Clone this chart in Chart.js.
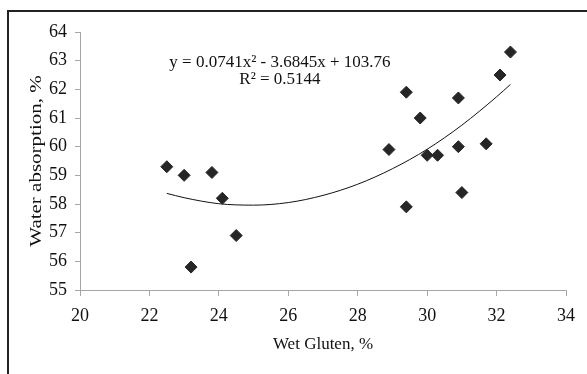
<!DOCTYPE html>
<html>
<head>
<meta charset="utf-8">
<script src="https://cdn.jsdelivr.net/npm/chart.js@4/dist/chart.umd.min.js"></script>
<style>
  html, body { margin: 0; padding: 0; background: #fff; overflow: hidden; }
  #wrap { position: relative; width: 587px; height: 374px; }
  #frame { position: absolute; left: 7px; top: 10px; width: 600px; height: 400px;
           border-left: 2px solid #222; border-top: 2px solid #222; box-sizing: border-box; }
  #chart { position: absolute; left: 0; top: 0; }
</style>
</head>
<body>
<div id="wrap">
  <div id="frame"></div>
  <canvas id="chart" width="587" height="374"></canvas>
</div>
<script>
// measured points
const wetGluten = [22.5, 23.0, 23.2, 23.8, 24.1, 24.5, 28.9, 29.4, 29.4, 29.8, 30.0, 30.3, 30.9, 30.9, 31.0, 31.7, 32.1, 32.4];
const waterAbs  = [59.3, 59.0, 55.8, 59.1, 58.2, 56.9, 59.9, 61.9, 57.9, 61.0, 59.7, 59.7, 61.7, 60.0, 58.4, 60.1, 62.5, 63.3];

// trend curve
const trendX = [22.5, 23, 24, 25, 26, 27, 28, 29, 30, 31, 32, 32.4];
const trendY = [58.37, 58.22, 58.01, 57.96, 58.05, 58.30, 58.69, 59.23, 59.91, 60.75, 61.74, 62.17];

const equationText = 'y = 0.0741x² - 3.6845x + 103.76';
const r2Text = 'R² = 0.5144';
const yTitle = 'Water absorption, %';

const FONT = '"Liberation Serif", "Times New Roman", serif';
const AXIS_GRAY = '#a6a6a6';

// equation text + y axis title (the original text is a bit narrow, so squeeze it)
const extraText = {
  id: 'extraText',
  afterDraw(chart) {
    const { ctx, chartArea, scales: { x, y } } = chart;
    ctx.save();
    ctx.font = '17px ' + FONT;
    ctx.fillStyle = '#111';
    ctx.textAlign = 'center';
    ctx.textBaseline = 'middle';
    ctx.fillText(equationText, x.getPixelForValue(25.76), y.getPixelForValue(62.95));
    ctx.fillText(r2Text, x.getPixelForValue(25.76), y.getPixelForValue(62.33));
    ctx.restore();

    ctx.save();
    ctx.translate(37, (chartArea.top + chartArea.bottom) / 2);
    ctx.rotate(-Math.PI / 2);
    ctx.scale(1, 0.8);
    ctx.font = '21px ' + FONT;
    ctx.fillStyle = '#111';
    ctx.textAlign = 'center';
    ctx.textBaseline = 'middle';
    ctx.fillText(yTitle, 0, 0);
    ctx.restore();
  }
};

new Chart(document.getElementById('chart'), {
  type: 'scatter',
  data: {
    datasets: [
      {
        label: 'Samples',
        data: wetGluten.map((v, i) => ({ x: v, y: waterAbs[i] })),
        pointStyle: 'rectRot',
        pointRadius: 6,
        pointBorderWidth: 1,
        backgroundColor: '#262626',
        borderColor: '#262626',
        order: 1
      },
      {
        label: 'Trend',
        data: trendX.map((v, i) => ({ x: v, y: trendY[i] })),
        showLine: true,
        pointRadius: 0,
        borderColor: '#111',
        borderWidth: 1,
        cubicInterpolationMode: 'monotone',
        order: 2
      }
    ]
  },
  options: {
    responsive: false,
    animation: false,
    layout: { padding: { top: 32, right: 21, left: 0, bottom: 0 } },
    plugins: {
      legend: { display: false },
      tooltip: { enabled: false }
    },
    scales: {
      x: {
        type: 'linear',
        min: 20, max: 34,
        afterFit: s => { s.height = 84; },
        border: { color: AXIS_GRAY, width: 1 },
        grid: { drawOnChartArea: false, drawTicks: true, tickLength: 6, color: AXIS_GRAY },
        ticks: { stepSize: 2, color: '#111', font: { family: FONT, size: 18 }, padding: 9 },
        title: { display: true, text: 'Wet Gluten, %', color: '#111',
                 font: { family: FONT, size: 17 }, padding: { top: 0, bottom: 19 } }
      },
      y: {
        min: 55, max: 64,
        afterFit: s => { s.width = 80; },
        border: { color: AXIS_GRAY, width: 1 },
        grid: { drawOnChartArea: false, drawTicks: true, tickLength: 5, color: AXIS_GRAY },
        ticks: { stepSize: 1, color: '#111', font: { family: FONT, size: 18 }, padding: 8 },
        title: { display: false }
      }
    }
  },
  plugins: [extraText]
});
</script>
</body>
</html>
